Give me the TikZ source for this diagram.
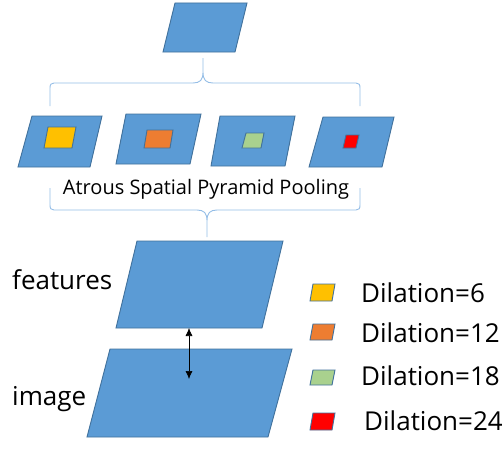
\documentclass[tikz,border=0pt]{standalone}
\usepackage{fontspec}
\setmainfont{Open Sans}
\usetikzlibrary{arrows.meta}
\definecolor{mapfill}{HTML}{5B9BD5}
\definecolor{mapedge}{HTML}{41719C}
\definecolor{bracecol}{HTML}{94BDE6}
\definecolor{kyellow}{HTML}{FFC000}
\definecolor{korange}{HTML}{ED7D31}
\definecolor{kgreen}{HTML}{A9D18E}
\definecolor{kred}{HTML}{FF0000}
\tikzset{
  fmap/.style={fill=mapfill, draw=mapedge, line width=0.9pt, line join=miter},
  brace/.style={draw=bracecol, line width=0.9pt},
  lbl/.style={inner sep=0pt, anchor=base west, font=\fontsize{26}{30}\selectfont},
  dblarrow/.style={{Latex[length=8pt,width=7pt]}-{Latex[length=8pt,width=7pt]}, line width=0.6pt},
}
\begin{document}
\begin{tikzpicture}[x=1pt,y=-1pt]
\useasboundingbox (0,0) rectangle (502,452);
% output feature map
\draw[fmap] (175,3) -- (247,3) -- (235,52) -- (163,52) -- cycle;
\coordinate (topout) at (203,58);
% upper brace
\draw[brace] (50,106) -- (50,88) .. controls (50,84.5) and (51,83) .. (54,83)
  -- (193,83) .. controls (200,83) and (203,80) .. (203,72) -- (topout)
  (203,72) .. controls (203,80) and (206,83) .. (213,83)
  -- (356,83) .. controls (359,83) and (360,84.5) .. (360,88) -- (360,106);
% four atrous branches
\draw[fmap] (32,116) -- (102,116) -- (90,167) -- (18,167) -- cycle;
\draw[fmap, fill=kyellow] (48,127) -- (76,127) -- (72,148) -- (44,148) -- cycle;
\draw[fmap] (126,114) -- (201,114) -- (190,164) -- (116,164) -- cycle;
\draw[fmap, fill=korange] (147,130) -- (173,130) -- (170,148) -- (144,148) -- cycle;
\draw[fmap] (220,116) -- (295,116) -- (285,166) -- (211,166) -- cycle;
\draw[fmap, fill=kgreen] (246,133) -- (264,133) -- (261,148) -- (242,148) -- cycle;
\draw[fmap] (323,117) -- (394,117) -- (382,167) -- (309,167) -- cycle;
\draw[fmap, fill=kred] (346,135) -- (359,135) -- (356,148) -- (343,148) -- cycle;
\node[inner sep=0pt, anchor=base] (aspp) at (206,194) {\fontsize{20}{24}\selectfont Atrous Spatial Pyramid Pooling};
% lower brace
\coordinate (botout) at (207,237);
\draw[brace] (50,188) -- (50,205) .. controls (50,208.5) and (51,210) .. (54,210)
  -- (197,210) .. controls (204,210) and (207,213) .. (207,221) -- (botout)
  (207,221) .. controls (207,213) and (210,210) .. (217,210)
  -- (356,210) .. controls (359,210) and (360,208.5) .. (360,205) -- (360,188);
% features and image planes
\draw[fmap] (137,241) -- (283,241) -- (262,328) -- (116,328) -- cycle;
\draw[fmap] (110,349) -- (292,349) -- (268,437) -- (87,437) -- cycle;
\coordinate (featbot) at (189,328);
\coordinate (imgpt) at (189,379);
\draw[dblarrow] (featbot) -- (imgpt);
\node[lbl] (feat) at (12,289) {features};
\node[lbl] (img) at (12,405) {image};
% legend
\draw[fmap, fill=kyellow] (313,284) -- (335,284) -- (332,301) -- (310,301) -- cycle;
\draw[fmap, fill=korange] (313,324) -- (335,324) -- (332,340) -- (310,340) -- cycle;
\draw[fmap, fill=kgreen] (313,370) -- (335,370) -- (332,385) -- (310,385) -- cycle;
\draw[fmap, fill=kred] (313,413) -- (335,413) -- (332,430) -- (310,430) -- cycle;
\node[lbl] (d6) at (361,302) {Dilation=6};
\node[lbl] (d12) at (361,342) {Dilation=12};
\node[lbl] (d18) at (361,385) {Dilation=18};
\node[lbl] (d24) at (364,430) {Dilation=24};
\end{tikzpicture}
\end{document}
